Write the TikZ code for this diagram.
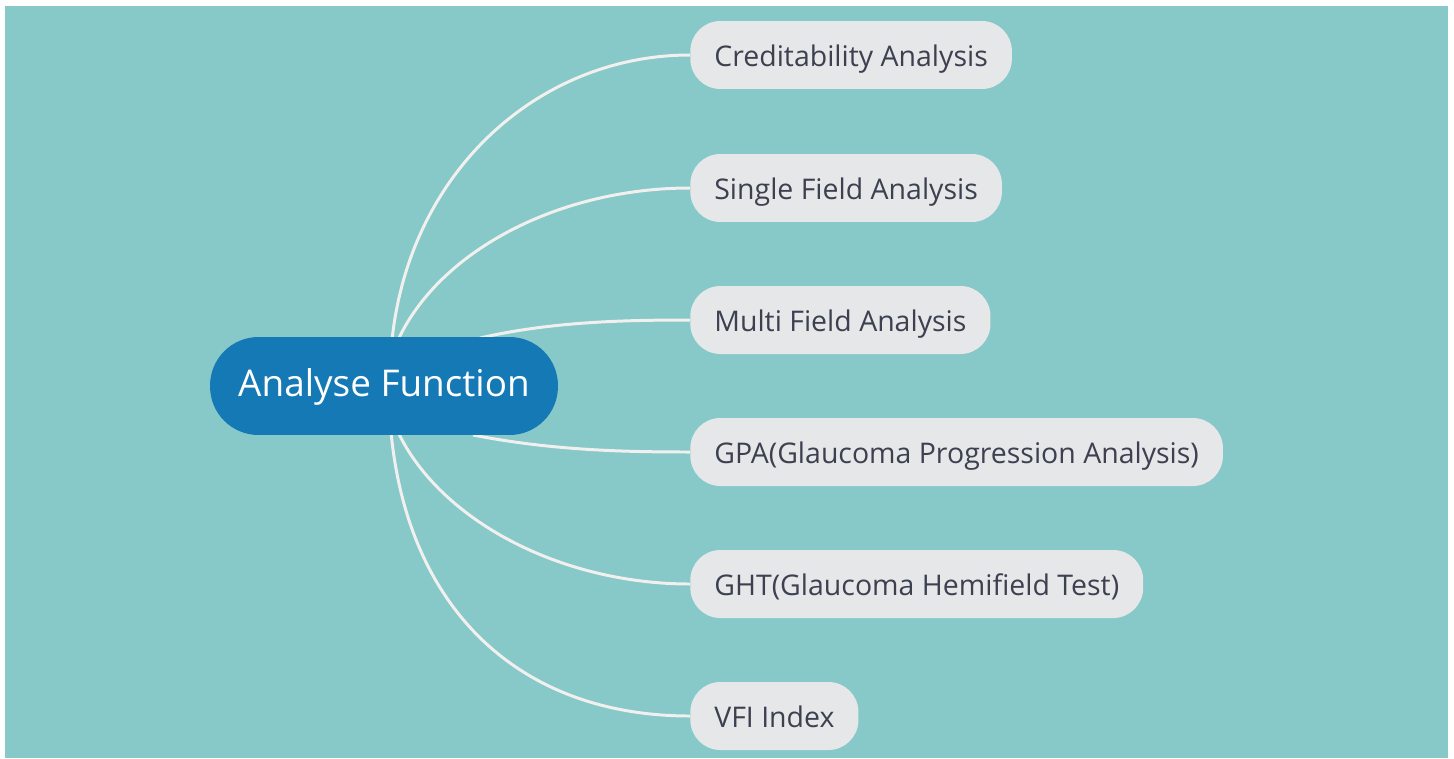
\documentclass[tikz,border=0pt]{standalone}
\usepackage{fontspec}
\setmainfont{Open Sans}
\pgfdeclarelayer{bg}
\pgfsetlayers{bg,main}
\definecolor{teal}{HTML}{86C9C8}
\definecolor{rootblue}{HTML}{1479B5}
\definecolor{leafgray}{HTML}{E6E7E9}
\definecolor{leaftext}{HTML}{3C4150}
\definecolor{edgecol}{HTML}{F2F0EE}
\tikzset{
  leaf/.style={anchor=west, fill=leafgray, rounded corners=0.6cm, minimum height=1.36cm,
    inner xsep=0.48cm, text=leaftext, font=\fontsize{16.2}{19}\selectfont,
    text height=1.34em, text depth=0.02em},
  rootnode/.style={fill=rootblue, rounded corners=0.97cm, minimum height=1.96cm, minimum width=6.96cm,
    text=white, font=\fontsize{21}{25}\selectfont, text height=1.14em, text depth=0em},
  branch/.style={draw=edgecol, line width=1.7pt}
}
\begin{document}
\begin{tikzpicture}[x=0.02cm, y=-0.02cm]
\useasboundingbox (0,0) rectangle (1454,758);
\node[rootnode] (root) at (384,386) {Analyse Function};
\node[leaf] (n1) at (690,55) {Creditability Analysis};
\node[leaf] (n2) at (690,188) {Single Field Analysis};
\node[leaf] (n3) at (690,320) {Multi Field Analysis};
\node[leaf] (n4) at (690,452) {GPA(Glaucoma Progression Analysis)};
\node[leaf] (n5) at (690,584) {GHT(Glaucoma Hemifield Test)};
\node[leaf] (n6) at (690,716) {VFI Index};
\coordinate (s1) at (392,340);
\coordinate (s2) at (398,340);
\coordinate (s3) at (480,338);
\coordinate (s4) at (473,435);
\coordinate (s5) at (398,432);
\coordinate (s6) at (391,432);
\begin{pgfonlayer}{bg}
\fill[white] (0,0) rectangle (1454,758);
\fill[teal] (5,6) rectangle (1448,758);
\draw[branch] (s1) .. controls (410,170) and (540,55) .. (n1.west);
\draw[branch] (s2) .. controls (440,250) and (560,188) .. (n2.west);
\draw[branch] (s3) .. controls (550,322) and (620,320) .. (n3.west);
\draw[branch] (s4) .. controls (550,450) and (620,452) .. (n4.west);
\draw[branch] (s5) .. controls (440,520) and (560,584) .. (n5.west);
\draw[branch] (s6) .. controls (408,610) and (520,716) .. (n6.west);
\end{pgfonlayer}
\end{tikzpicture}
\end{document}
